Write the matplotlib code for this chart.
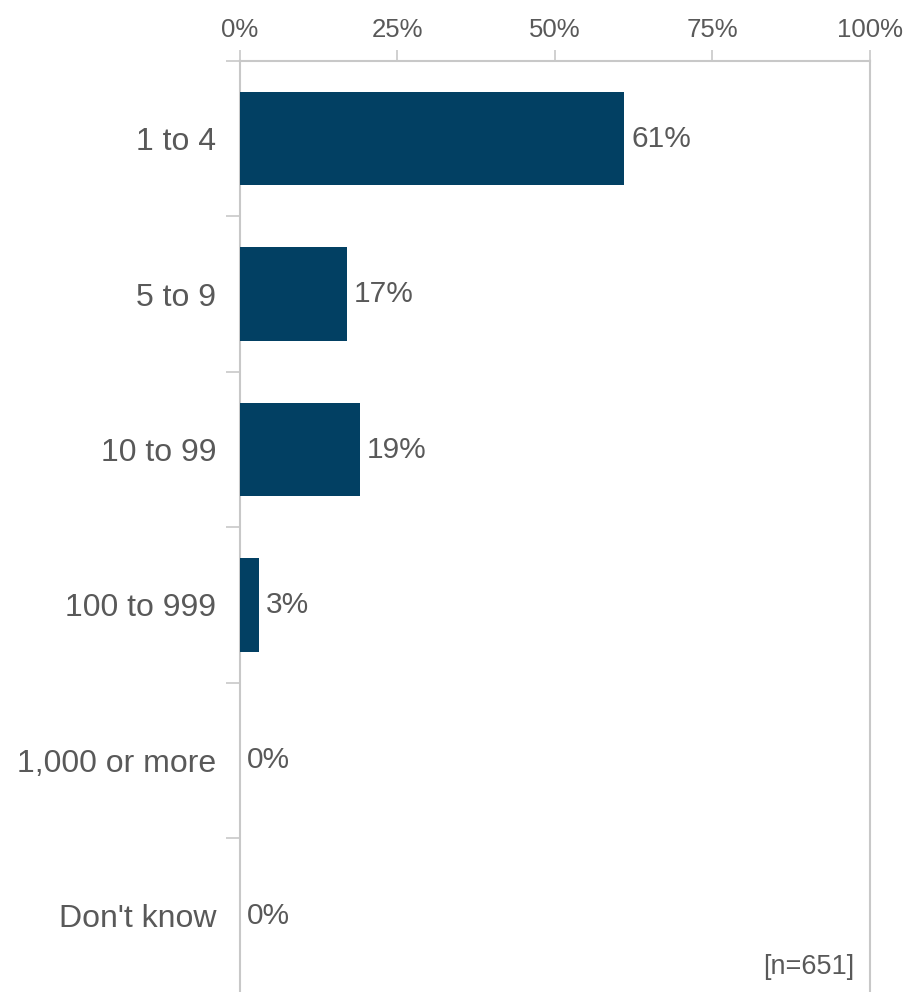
import matplotlib
matplotlib.use("Agg")
import matplotlib.pyplot as plt

categories = ["1 to 4", "5 to 9", "10 to 99", "100 to 999", "1,000 or more", "Don't know"]
values = [61, 17, 19, 3, 0, 0]
xticks = [0, 25, 50, 75, 100]
note = "[n=651]"

bar_color = "#024063"
text_color = "#595959"
line_color = "#c8c8c8"

plt.rcParams['font.family'] = ['Liberation Sans', 'DejaVu Sans']

fig = plt.figure(figsize=(9.09, 9.92), dpi=100)
ax = fig.add_axes([240 / 909, -0.0015, 630 / 909, 1 - 61 / 992 + 0.0015])

y = list(range(len(categories)))
ax.barh(y, values, height=0.6, color=bar_color, zorder=3)

for yi, v in zip(y, values):
    ax.text(v + 1.1, yi, f"{v}%", va="center", ha="left", fontsize=21.5, color=text_color)

ax.set_xlim(0, 100)
ax.set_ylim(len(categories) - 0.5, -0.5)

# top axis with percent ticks
ax.xaxis.tick_top()
ax.set_xticks(xticks)
ax.set_xticklabels([f"{t}%" for t in xticks], fontsize=18.5, color=text_color)
ax.tick_params(axis="x", length=8, width=1.2, color=line_color, pad=6)

# category labels, ticks sit between categories
ax.set_yticks(y)
ax.set_yticklabels(categories, fontsize=23, color=text_color)
ax.tick_params(axis="y", length=0, pad=17)
ax.set_yticks([i - 0.5 for i in range(len(categories) + 1)], minor=True)
ax.tick_params(axis="y", which="minor", length=10, width=1.2, color=line_color)

ax.spines["bottom"].set_visible(False)
for side in ["top", "left", "right"]:
    ax.spines[side].set_color(line_color)
    ax.spines[side].set_linewidth(1.5)

ax.text(0.975, 0.015, note, transform=ax.transAxes, ha="right", va="bottom",
        fontsize=19.5, color=text_color)

fig.savefig("out.png", dpi=100)
